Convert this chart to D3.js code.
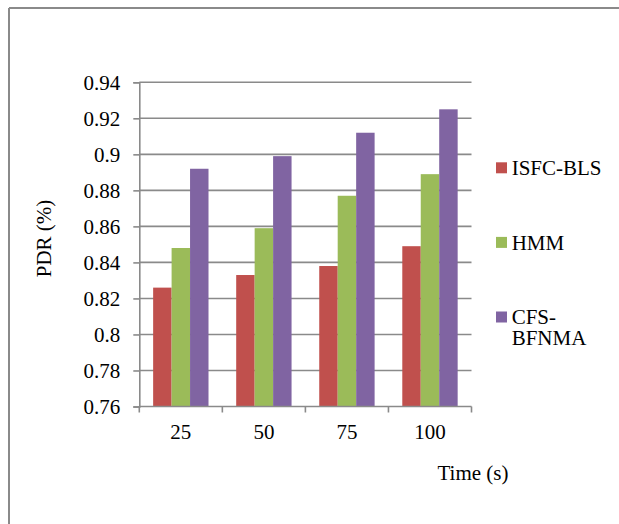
<!DOCTYPE html>
<html>
<head>
<meta charset="utf-8">
<script src="https://cdn.jsdelivr.net/npm/d3@7"></script>
<style>
  body { margin: 0; background: #fff; }
  text { font-family: "Liberation Serif", "Times New Roman", serif; fill: #000; }
</style>
</head>
<body>
<svg width="619" height="524"></svg>
<script>
var categories = ['25', '50', '75', '100'];
var seriesNames = ['ISFC-BLS', 'HMM', 'CFS-BFNMA'];
var isfcBls = [0.826, 0.833, 0.838, 0.849];
var hmm = [0.848, 0.859, 0.877, 0.889];
var cfsBfnma = [0.892, 0.899, 0.912, 0.925];
var yTicks = [0.76, 0.78, 0.8, 0.82, 0.84, 0.86, 0.88, 0.9, 0.92, 0.94];
var yTickLabels = ['0.76', '0.78', '0.8', '0.82', '0.84', '0.86', '0.88', '0.9', '0.92', '0.94'];
var colors = ['#c0504d', '#9bbb59', '#8064a2'];

var seriesValues = [isfcBls, hmm, cfsBfnma];
var gridColor = '#8a8a8a';

var svg = d3.select('svg');

// frame: only top and left edges show
svg.append('line').attr('x1', 9).attr('x2', 619).attr('y1', 8).attr('y2', 8)
  .attr('stroke', gridColor).attr('stroke-width', 2);
svg.append('line').attr('x1', 9).attr('x2', 9).attr('y1', 8).attr('y2', 524)
  .attr('stroke', gridColor).attr('stroke-width', 2);

var plotLeft = 139.3, plotRight = 471.5, plotTop = 82.3, plotBottom = 406.5;

var x = d3.scaleBand().domain(categories).range([plotLeft, plotRight])
  .paddingInner(1 / 3).paddingOuter(1 / 6);
var xs = d3.scaleBand().domain(d3.range(seriesNames.length)).range([0, x.bandwidth()]);
var y = d3.scaleLinear().domain([0.76, 0.94]).range([plotBottom, plotTop]);

// gridlines
svg.append('g').selectAll('line').data(yTicks.slice(1)).enter().append('line')
  .attr('x1', plotLeft).attr('x2', plotRight)
  .attr('y1', function (d) { return y(d); }).attr('y2', function (d) { return y(d); })
  .attr('stroke', gridColor).attr('stroke-width', 1.6);

// bars
var groups = svg.append('g').selectAll('g').data(categories).enter().append('g')
  .attr('transform', function (c) { return 'translate(' + x(c) + ',0)'; });
groups.selectAll('rect').data(function (c, i) {
    return seriesValues.map(function (vals, s) { return {s: s, v: vals[i]}; });
  }).enter().append('rect')
  .attr('x', function (d) { return xs(d.s); })
  .attr('width', xs.bandwidth())
  .attr('y', function (d) { return y(d.v); })
  .attr('height', function (d) { return plotBottom - y(d.v); })
  .attr('fill', function (d) { return colors[d.s]; });

// y axis
var yAxis = svg.append('g').attr('transform', 'translate(' + plotLeft + ',0)')
  .call(d3.axisLeft(y).tickValues(yTicks).tickSize(6).tickPadding(13)
    .tickFormat(function (d, i) { return yTickLabels[i]; }));
yAxis.select('.domain').attr('stroke', gridColor).attr('stroke-width', 1.6);
yAxis.selectAll('.tick line').attr('stroke', gridColor).attr('stroke-width', 1.6);
yAxis.selectAll('.tick text').attr('font-size', 21).attr('font-family', '"Liberation Serif", serif').attr('fill', '#000');

// x axis with ticks on category boundaries
var xAxis = svg.append('g').attr('transform', 'translate(0,' + plotBottom + ')');
xAxis.append('line').attr('x1', plotLeft).attr('x2', plotRight)
  .attr('stroke', gridColor).attr('stroke-width', 1.6);
var step = x.step();
xAxis.selectAll('.tk').data(d3.range(categories.length + 1)).enter().append('line')
  .attr('x1', function (i) { return plotLeft + i * step; })
  .attr('x2', function (i) { return plotLeft + i * step; })
  .attr('y1', 0).attr('y2', 6)
  .attr('stroke', gridColor).attr('stroke-width', 1.6);
xAxis.selectAll('text').data(categories).enter().append('text')
  .attr('x', function (c) { return x(c) + x.bandwidth() / 2; })
  .attr('y', 32)
  .attr('text-anchor', 'middle')
  .attr('font-size', 21)
  .text(function (c) { return c; });

// axis titles
svg.append('text').attr('transform', 'translate(51,238.5) rotate(-90)')
  .attr('text-anchor', 'middle').attr('font-size', 21).text('PDR (%)');
svg.append('text').attr('x', 473).attr('y', 480)
  .attr('text-anchor', 'middle').attr('font-size', 21).text('Time (s)');

// legend
var legend = svg.append('g').selectAll('g').data(seriesNames).enter().append('g')
  .attr('transform', function (d, i) { return 'translate(496,' + (175 + i * 74.6) + ')'; });
legend.append('rect').attr('x', 0).attr('y', -12.7).attr('width', 11).attr('height', 11)
  .attr('fill', function (d, i) { return colors[i]; });
legend.append('text').attr('x', 15.7).attr('y', 0).attr('font-size', 21)
  .each(function (d) {
    var lines = d.length > 8 ? d.replace('-', '-\n').split('\n') : [d];
    var t = d3.select(this);
    lines.forEach(function (l, k) {
      t.append('tspan').attr('x', 15.7).attr('dy', k === 0 ? 0 : 21).text(l);
    });
  });
</script>
</body>
</html>
